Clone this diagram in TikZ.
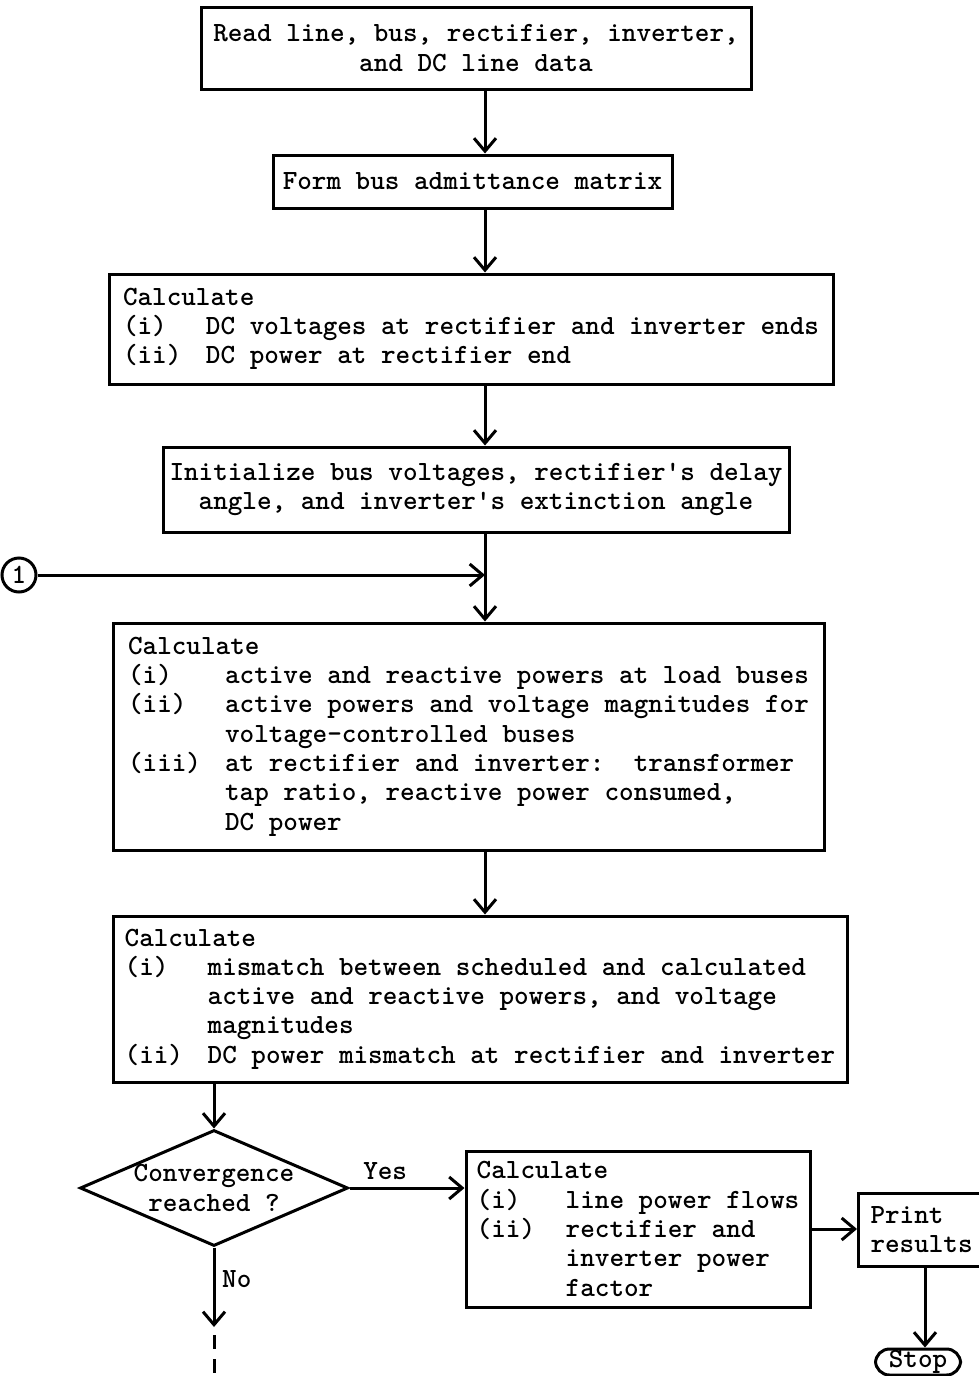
\documentclass[tikz,border=0pt]{standalone}
\usetikzlibrary{arrows.meta,shapes.geometric}
\newcommand{\itm}[3][41.5pt]{\makebox[#1][l]{#2}#3}
\begin{document}
\begin{tikzpicture}[x=0.5pt, y=-0.5pt, line width=1.5pt,
    every node/.style = {font=\ttfamily\bfseries\fontsize{13.9}{14.65}\selectfont},
    >={Straight Barb[length=6.5pt,width=11pt]}]
  \tikzstyle{box}=[draw, rectangle, align=left, inner sep=0pt]
  \tikzstyle{decision}=[draw, diamond, aspect=2.4, align=center, inner sep=-2pt]
  \tikzstyle{terminal}=[draw, rounded corners=7pt, inner sep=0pt]
  \tikzstyle{connector}=[draw, circle, inner sep=0pt, minimum size=17pt]

  \useasboundingbox (0,0) rectangle (979,1376);
  \coordinate (spine) at (485,0);
  \coordinate (drop) at (925,0);

  \node[box, align=center, minimum width=275pt, minimum height=41pt] (read) at (476,48)
    {Read line, bus, rectifier, inverter,\\and DC line data};
  \node[box, minimum width=199.5pt, minimum height=26.5pt] (ybus) at (472.5,181.5)
    {Form bus admittance matrix};
  \node[box, minimum width=362pt, minimum height=55pt] (dcv) at (471,329)
    {Calculate\\
     \itm{(i)}{DC voltages at rectifier and inverter ends}\\
     \itm{(ii)}{DC power at rectifier end}};
  \node[box, align=center, minimum width=313pt, minimum height=42.5pt] (init) at (476,489.5)
    {Initialize bus voltages, rectifier's delay\\angle, and inverter's extinction angle};
  \node[connector] (one) at (19,575) {1};
  \node[box, minimum width=355.5pt, minimum height=113.5pt] (load) at (468.5,736.5)
    {Calculate\\
     \itm[48.5pt]{(i)}{active and reactive powers at load buses}\\
     \itm[48.5pt]{(ii)}{active powers and voltage magnitudes for}\\
     \itm[48.5pt]{}{voltage-controlled buses}\\
     \itm[48.5pt]{(iii)}{at rectifier and inverter:\ \ transformer}\\
     \itm[48.5pt]{}{tap ratio, reactive power consumed,}\\
     \itm[48.5pt]{}{DC power}};
  \node[box, minimum width=367pt, minimum height=83pt] (mism) at (480,999)
    {Calculate\\
     \itm{(i)}{mismatch between scheduled and calculated}\\
     \itm{}{active and reactive powers, and voltage}\\
     \itm{}{magnitudes}\\
     \itm{(ii)}{DC power mismatch at rectifier and inverter}};
  \node[decision, minimum width=134pt, minimum height=58pt] (conv) at (214,1188)
    {Convergence\\reached ?};
  \node[box, minimum width=172pt, minimum height=78pt] (flows) at (638,1229)
    {Calculate\\
     \itm[44.5pt]{(i)}{line power flows}\\
     \itm[44.5pt]{(ii)}{rectifier and}\\
     \itm[44.5pt]{}{inverter power}\\
     \itm[44.5pt]{}{factor}};
  \node[box, text width=60pt, inner xsep=6pt, minimum height=36.5pt, anchor=west] (print) at (857,1229.5)
    {Print\\results};
  \node[terminal, minimum width=42.5pt, minimum height=13pt] (stop) at (918,1362) {Stop};
  \coordinate (nogo) at (214,1327);
  \coordinate (cont) at (214,1376);

  \draw[->] (read.south -| spine) -- (ybus.north -| spine);
  \draw[->] (ybus.south -| spine) -- (dcv.north -| spine);
  \draw[->] (dcv.south -| spine) -- (init.north -| spine);
  \draw[->] (init.south -| spine) -- (load.north -| spine);
  \draw[->] (one) -- (one -| spine);
  \draw[->] (load.south -| spine) -- (mism.north -| spine);
  \draw[->] (conv.north |- mism.south) -- (conv.north);
  \draw[->] (conv.east) -- node[above, pos=0.31] {Yes} (conv.east -| flows.west);
  \draw[->] (conv.south) -- node[right, pos=0.4] {No} (nogo);
  \draw[dash pattern=on 7pt off 5pt] ([yshift=-4pt]nogo) -- (cont);
  \draw[->] (flows.east) -- (flows.east -| print.west);
  \draw[->] (print.south -| drop) -- (stop.north -| drop);
\end{tikzpicture}
\end{document}
